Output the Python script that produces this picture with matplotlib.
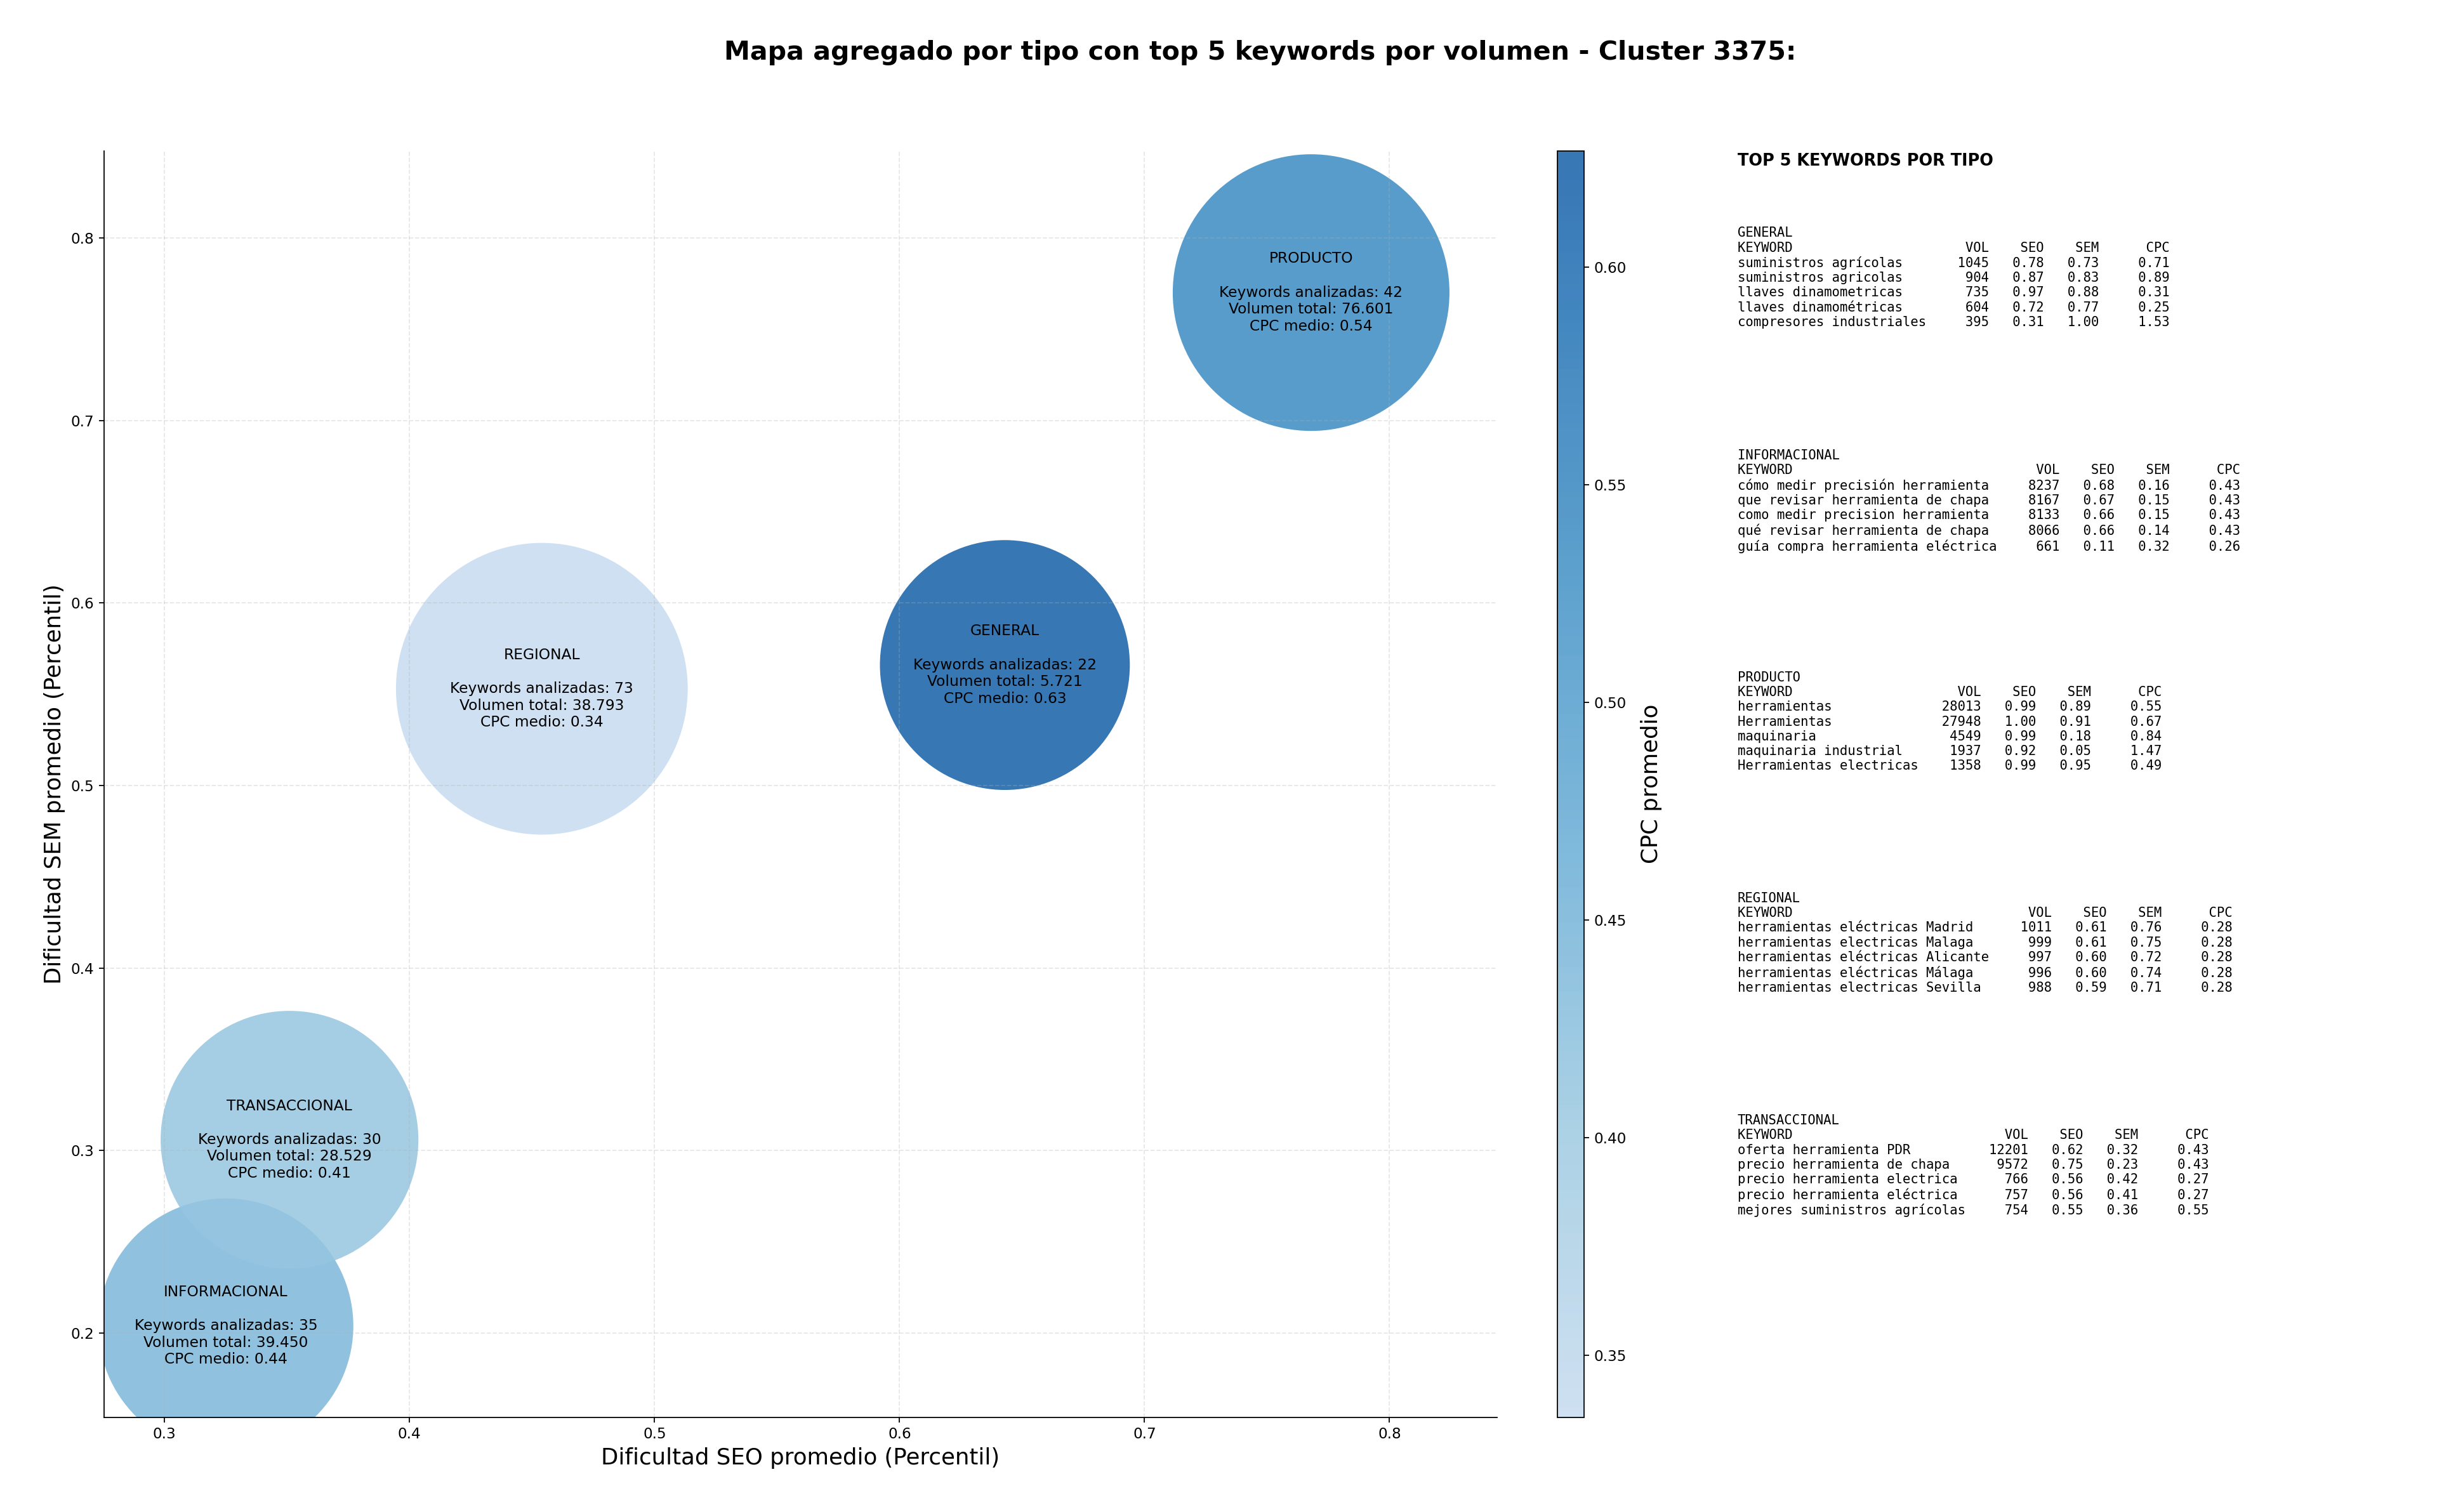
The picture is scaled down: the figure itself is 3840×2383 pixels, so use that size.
import numpy as np
import matplotlib
matplotlib.use("Agg")
import matplotlib.pyplot as plt
from matplotlib.colors import ListedColormap

# ---------------- data ----------------
tipos = ["GENERAL", "INFORMACIONAL", "PRODUCTO", "REGIONAL", "TRANSACCIONAL"]
seo_prom = [0.643, 0.325, 0.768, 0.454, 0.351]
sem_prom = [0.566, 0.204, 0.770, 0.553, 0.306]
n_keywords = [22, 35, 42, 73, 30]
vol_total = [5721, 39450, 76601, 38793, 28529]
cpc_medio = [0.6268, 0.44, 0.54, 0.3357, 0.41]
bubble_size = [31400, 32700, 38500, 42800, 33400]

kw_general = ["suministros agrícolas", "suministros agricolas", "llaves dinamometricas",
              "llaves dinamométricas", "compresores industriales"]
vol_general = [1045, 904, 735, 604, 395]
seo_general = [0.78, 0.87, 0.97, 0.72, 0.31]
sem_general = [0.73, 0.83, 0.88, 0.77, 1.00]
cpc_general = [0.71, 0.89, 0.31, 0.25, 1.53]

kw_info = ["cómo medir precisión herramienta", "que revisar herramienta de chapa",
           "como medir precision herramienta", "qué revisar herramienta de chapa",
           "guía compra herramienta eléctrica"]
vol_info = [8237, 8167, 8133, 8066, 661]
seo_info = [0.68, 0.67, 0.66, 0.66, 0.11]
sem_info = [0.16, 0.15, 0.15, 0.14, 0.32]
cpc_info = [0.43, 0.43, 0.43, 0.43, 0.26]

kw_prod = ["herramientas", "Herramientas", "maquinaria", "maquinaria industrial",
           "Herramientas electricas"]
vol_prod = [28013, 27948, 4549, 1937, 1358]
seo_prod = [0.99, 1.00, 0.99, 0.92, 0.99]
sem_prod = [0.89, 0.91, 0.18, 0.05, 0.95]
cpc_prod = [0.55, 0.67, 0.84, 1.47, 0.49]

kw_reg = ["herramientas eléctricas Madrid", "herramientas electricas Malaga",
          "herramientas eléctricas Alicante", "herramientas eléctricas Málaga",
          "herramientas electricas Sevilla"]
vol_reg = [1011, 999, 997, 996, 988]
seo_reg = [0.61, 0.61, 0.60, 0.60, 0.59]
sem_reg = [0.76, 0.75, 0.72, 0.74, 0.71]
cpc_reg = [0.28, 0.28, 0.28, 0.28, 0.28]

kw_trans = ["oferta herramienta PDR", "precio herramienta de chapa",
            "precio herramienta electrica", "precio herramienta eléctrica",
            "mejores suministros agrícolas"]
vol_trans = [12201, 9572, 766, 757, 754]
seo_trans = [0.62, 0.75, 0.56, 0.56, 0.55]
sem_trans = [0.32, 0.23, 0.42, 0.41, 0.36]
cpc_trans = [0.43, 0.43, 0.27, 0.27, 0.55]

tablas = [
    ("GENERAL", kw_general, vol_general, seo_general, sem_general, cpc_general),
    ("INFORMACIONAL", kw_info, vol_info, seo_info, sem_info, cpc_info),
    ("PRODUCTO", kw_prod, vol_prod, seo_prod, sem_prod, cpc_prod),
    ("REGIONAL", kw_reg, vol_reg, seo_reg, sem_reg, cpc_reg),
    ("TRANSACCIONAL", kw_trans, vol_trans, seo_trans, sem_trans, cpc_trans),
]

# ---------------- figure ----------------
DPI = 160
fig = plt.figure(figsize=(3840 / DPI, 2383 / DPI), dpi=DPI)

cmap = ListedColormap(plt.cm.Blues(np.linspace(0.25, 0.82, 256)))

ax = fig.add_axes([0.0427, 0.0627, 0.5715, 0.8376])
sc = ax.scatter(seo_prom, sem_prom, s=bubble_size, c=cpc_medio, cmap=cmap,
                vmin=min(cpc_medio), vmax=max(cpc_medio), alpha=0.85,
                edgecolors="none")

for t, x, y, n, v, c in zip(tipos, seo_prom, sem_prom, n_keywords, vol_total, cpc_medio):
    vol_txt = f"{v:,}".replace(",", ".")
    ax.text(x, y, f"{t}\n\nKeywords analizadas: {n}\nVolumen total: {vol_txt}\nCPC medio: {c:.2f}",
            ha="center", va="center", fontsize=10.5, color="black")

ax.set_xlim(0.2753, 0.8438)
ax.set_ylim(0.154, 0.8477)
ax.grid(True, linestyle="--", alpha=0.3)
ax.spines["top"].set_visible(False)
ax.spines["right"].set_visible(False)
ax.tick_params(labelsize=10.4)
ax.set_xlabel("Dificultad SEO promedio (Percentil)", fontsize=16)
ax.set_ylabel("Dificultad SEM promedio (Percentil)", fontsize=16)

cax = fig.add_axes([0.639, 0.0627, 0.0109, 0.8376])
cb = fig.colorbar(sc, cax=cax)
cb.set_label("CPC promedio", fontsize=16, labelpad=10)
cb.ax.tick_params(labelsize=10.4)

fig.suptitle("Mapa agregado por tipo con top 5 keywords por volumen - Cluster 3375:",
             fontsize=18.5, fontweight="bold", x=0.517, y=0.965, va="center")

# ---------------- keyword tables ----------------
fig.text(0.713, 0.899, "TOP 5 KEYWORDS POR TIPO", fontsize=11.5, fontweight="bold", va="top")

ys = [0.850, 0.703, 0.556, 0.410, 0.263]
for (nombre, kws, vols, seos, sems, cpcs), y in zip(tablas, ys):
    w = max(len(k) for k in kws) + 2
    lines = [nombre, f"{'KEYWORD':<{w}}{'VOL':>6}{'SEO':>7}{'SEM':>7}{'CPC':>9}"]
    for k, v, s1, s2, c in zip(kws, vols, seos, sems, cpcs):
        lines.append(f"{k:<{w}}{v:>6}{s1:>7.2f}{s2:>7.2f}{c:>9.2f}")
    fig.text(0.713, y, "\n".join(lines), family="monospace", fontsize=9.3, va="top")

fig.savefig("out.png", dpi=DPI)
